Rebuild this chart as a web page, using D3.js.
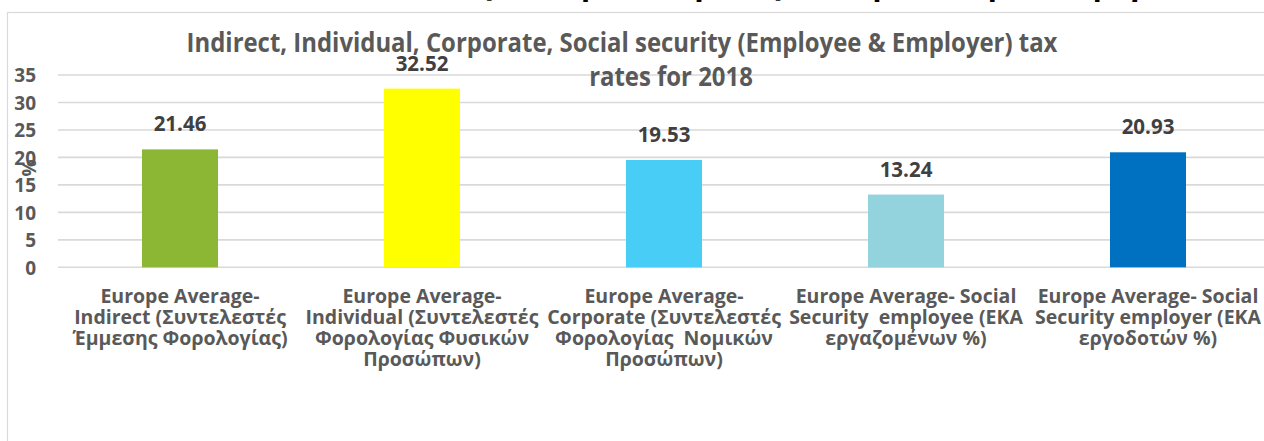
<!DOCTYPE html>
<html>
<head>
<meta charset="utf-8">
<script src="https://cdn.jsdelivr.net/npm/d3@7"></script>
<style>
  html, body { margin: 0; padding: 0; background: #fff; }
  svg { display: block; }
  text { font-family: "Open Sans", "DejaVu Sans", sans-serif; font-weight: 700; white-space: pre; }
</style>
</head>
<body>
<script>
// Tax rate categories (multi-line axis labels) and their values
const categories = [
  "Indirect", "Individual", "Corporate", "SS employee", "SS employer"
];
const categoryLabels = [
  ["Europe Average-", "Indirect (Συντελεστές", "Έμμεσης Φορολογίας)"],
  ["Europe Average-", "Individual (Συντελεστές", "Φορολογίας Φυσικών", "Προσώπων)"],
  ["Europe Average-", "Corporate (Συντελεστές", "Φορολογίας  Νομικών", "Προσώπων)"],
  ["Europe Average- Social", "Security  employee (EKA", "εργαζομένων %)"],
  ["Europe Average- Social", "Security employer (EKA", "εργοδοτών %)"]
];
const rates = [21.46, 32.52, 19.53, 13.24, 20.93];
const barColors = ["#8CB734", "#FFFF00", "#48CDF7", "#93D3DD", "#0070C0"];
const yTicks = [0, 5, 10, 15, 20, 25, 30, 35];
const titleLines = [
  "Indirect, Individual, Corporate, Social security (Employee & Employer) tax",
  "rates for 2018"
];
const headingAbove = "Μέσοι Συντελεστές Φορολογίας στην Ευρώπη για το 2018";

const W = 1264, H = 441;

const svg = d3.select("body").append("svg")
  .attr("width", W).attr("height", H);

// section heading above the chart, running off the top edge
svg.append("text")
  .attr("transform", "translate(725,-5)")
  .attr("text-anchor", "middle")
  .attr("font-size", 30)
  .attr("letter-spacing", 9)
  .attr("fill", "#000")
  .text(headingAbove);

// chart area frame
svg.append("rect")
  .attr("x", 7.5).attr("y", 12.5)
  .attr("width", 1400).attr("height", 600)
  .attr("fill", "#fff")
  .attr("stroke", "#d9d9d9").attr("stroke-width", 1.2);

const x = d3.scaleBand()
  .domain(categories)
  .range([59, 1269])
  .paddingInner(0.686)
  .paddingOuter(0.343);

const y = d3.scaleLinear()
  .domain([0, 35])
  .range([267.3, 75]);

// horizontal gridlines
svg.append("g")
  .selectAll("line")
  .data(yTicks)
  .join("line")
  .attr("x1", 58).attr("x2", W)
  .attr("y1", d => y(d)).attr("y2", d => y(d))
  .attr("stroke", "#d9d9d9").attr("stroke-width", 1.6);

// y axis labels
const yAxis = svg.append("g")
  .attr("transform", "translate(36,0)")
  .call(d3.axisLeft(y).tickValues(yTicks).tickSize(0).tickPadding(0).tickFormat(d3.format("d")));
yAxis.select(".domain").remove();
yAxis.selectAll("text")
  .attr("font-family", "Open Sans")
  .attr("font-weight", 700)
  .attr("font-size", 19)
  .attr("fill", "#595959")
  .attr("dy", "0.36em");

// y axis title
svg.append("text")
  .attr("transform", "translate(36,168) rotate(-90)")
  .attr("text-anchor", "middle")
  .attr("font-size", 19)
  .attr("fill", "#595959")
  .text("%");

// bars
svg.append("g")
  .selectAll("rect")
  .data(rates)
  .join("rect")
  .attr("x", (d, i) => x(categories[i]))
  .attr("width", x.bandwidth())
  .attr("y", d => y(d))
  .attr("height", d => y(0) - y(d))
  .attr("fill", (d, i) => barColors[i]);

// value labels
svg.append("g")
  .selectAll("text")
  .data(rates)
  .join("text")
  .attr("x", (d, i) => x(categories[i]) + x.bandwidth() / 2)
  .attr("y", d => y(d) - 18)
  .attr("text-anchor", "middle")
  .attr("font-size", 20.5)
  .attr("fill", "#404040")
  .text(d => d3.format(".2f")(d));

// category labels
const cat = svg.append("g")
  .selectAll("g")
  .data(categoryLabels)
  .join("g")
  .attr("transform", (d, i) => `translate(${x(categories[i]) + x.bandwidth() / 2},303)`);
cat.selectAll("text")
  .data(d => d)
  .join("text")
  .attr("x", 0)
  .attr("y", (d, j) => j * 21)
  .attr("text-anchor", "middle")
  .attr("font-size", 19.5)
  .attr("fill", "#595959")
  .text(d => d);

// chart title
const titleCenters = [622, 671];
const titleBase = [52, 86];
svg.append("g")
  .selectAll("text")
  .data(titleLines)
  .join("text")
  .attr("transform", (d, i) => `translate(${titleCenters[i]},${titleBase[i]}) scale(0.92,1)`)
  .attr("text-anchor", "middle")
  .attr("font-size", 26)
  .attr("fill", "#595959")
  .text(d => d);
</script>
</body>
</html>
